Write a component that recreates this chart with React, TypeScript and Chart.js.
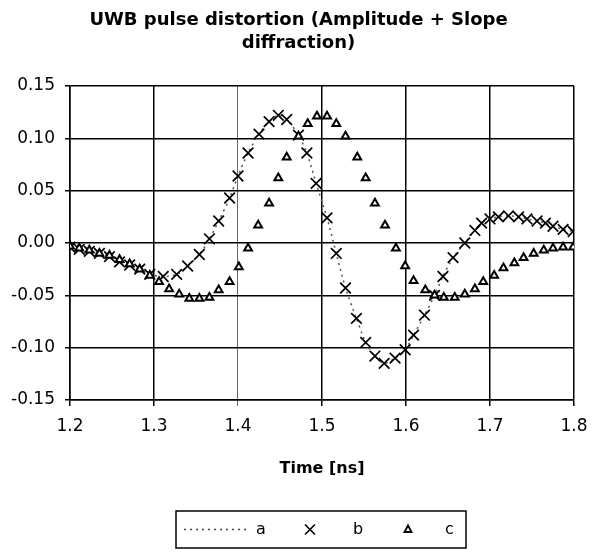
import React, { useEffect, useRef } from "react";
import { Chart, registerables } from "chart.js";

Chart.register(...registerables);

const TITLE_LINES = ["UWB pulse distortion (Amplitude + Slope", "diffraction)"];
const X_TITLE = "Time [ns]";
const SERIES_NAMES = ["a", "b", "c"];

// series a / b (same samples: a is the dotted trace, b the X markers)
const timesB = [
  1.2, 1.211, 1.223, 1.235, 1.247, 1.259, 1.271, 1.283, 1.295, 1.311, 1.327, 1.34, 1.354,
  1.366, 1.377, 1.39, 1.4, 1.412, 1.425, 1.437, 1.448, 1.458, 1.472, 1.482, 1.493, 1.506,
  1.517, 1.528, 1.541, 1.552, 1.563, 1.574, 1.587, 1.599, 1.609, 1.622, 1.634, 1.644, 1.656,
  1.67, 1.682, 1.69, 1.7, 1.71, 1.722, 1.734, 1.744, 1.756, 1.766, 1.775, 1.787, 1.799,
];
const valuesB = [
  -0.004, -0.006, -0.008, -0.01, -0.013, -0.018, -0.021, -0.025, -0.03, -0.032, -0.03, -0.022,
  -0.011, 0.004, 0.021, 0.043, 0.064, 0.086, 0.104, 0.116, 0.122, 0.118, 0.103, 0.086, 0.057,
  0.024, -0.01, -0.043, -0.072, -0.095, -0.108, -0.115, -0.11, -0.102, -0.088, -0.069, -0.05,
  -0.032, -0.014, 0.0, 0.012, 0.019, 0.023, 0.025, 0.026, 0.025, 0.023, 0.021, 0.019, 0.016,
  0.013, 0.011,
];

// series c (triangles)
const timesC = [
  1.2, 1.211, 1.223, 1.235, 1.247, 1.259, 1.271, 1.283, 1.295, 1.306, 1.318, 1.33, 1.342,
  1.354, 1.366, 1.377, 1.39, 1.401, 1.412, 1.424, 1.437, 1.448, 1.458, 1.472, 1.483, 1.494,
  1.506, 1.517, 1.528, 1.542, 1.552, 1.563, 1.575, 1.588, 1.599, 1.609, 1.623, 1.634, 1.645,
  1.658, 1.67, 1.682, 1.692, 1.705, 1.716, 1.729, 1.74, 1.752, 1.764, 1.775, 1.787, 1.799,
];
const valuesC = [
  -0.003, -0.005, -0.007, -0.01, -0.012, -0.016, -0.02, -0.025, -0.031, -0.037, -0.044, -0.049,
  -0.053, -0.053, -0.052, -0.045, -0.037, -0.023, -0.005, 0.017, 0.038, 0.062, 0.082, 0.102,
  0.114, 0.121, 0.121, 0.114, 0.102, 0.082, 0.062, 0.038, 0.017, -0.005, -0.022, -0.036, -0.045,
  -0.05, -0.052, -0.052, -0.049, -0.044, -0.037, -0.031, -0.024, -0.019, -0.014, -0.01, -0.007,
  -0.005, -0.004, -0.004,
];

const X_MIN = 1.2;
const X_MAX = 1.8;
const Y_MIN = -0.15;
const Y_MAX = 0.15;

const FONT = "'DejaVu Sans', 'Liberation Sans', Arial, sans-serif";

const toPoints = (xs: number[], ys: number[]) => xs.map((x, i) => ({ x, y: ys[i] }));

const titlePlugin = {
  id: "centeredTitle",
  afterDraw(chart: any) {
    const ctx = chart.ctx as CanvasRenderingContext2D;
    ctx.save();
    ctx.fillStyle = "#000";
    ctx.font = "bold 18px " + FONT;
    ctx.textAlign = "center";
    ctx.textBaseline = "middle";
    TITLE_LINES.forEach((line, i) => ctx.fillText(line, 298.5, 20 + i * 23.5));
    ctx.restore();
  },
};

const legendPlugin = {
  id: "boxLegend",
  afterDraw(chart: any) {
    const ctx = chart.ctx as CanvasRenderingContext2D;
    const bx = 176, by = 511, bw = 290, bh = 37;
    ctx.save();
    ctx.strokeStyle = "#000";
    ctx.lineWidth = 1.5;
    ctx.strokeRect(bx, by, bw, bh);
    const cy = by + bh / 2;
    // a
    ctx.strokeStyle = "#444";
    ctx.lineWidth = 1.5;
    ctx.setLineDash([2, 4]);
    ctx.beginPath();
    ctx.moveTo(184, cy);
    ctx.lineTo(250, cy);
    ctx.stroke();
    ctx.setLineDash([]);
    ctx.fillStyle = "#000";
    ctx.font = "16px " + FONT;
    ctx.textBaseline = "middle";
    ctx.textAlign = "left";
    ctx.fillText(SERIES_NAMES[0], 256, cy);
    // b
    ctx.strokeStyle = "#000";
    ctx.lineWidth = 1.6;
    const r = 5;
    ctx.beginPath();
    ctx.moveTo(310 - r, cy - r);
    ctx.lineTo(310 + r, cy + r);
    ctx.moveTo(310 + r, cy - r);
    ctx.lineTo(310 - r, cy + r);
    ctx.stroke();
    ctx.fillText(SERIES_NAMES[1], 353, cy);
    // c
    ctx.lineWidth = 1.8;
    ctx.beginPath();
    ctx.moveTo(408, cy - 4);
    ctx.lineTo(411.5, cy + 2.5);
    ctx.lineTo(404.5, cy + 2.5);
    ctx.closePath();
    ctx.stroke();
    ctx.fillText(SERIES_NAMES[2], 445, cy);
    ctx.restore();
  },
};

export default function App() {
  const ref = useRef<HTMLCanvasElement | null>(null);

  useEffect(() => {
    document.body.style.margin = "0";
    const canvas = ref.current;
    if (!canvas) return;
    const chart = new Chart(canvas, {
      type: "scatter",
      data: {
        datasets: [
          {
            label: SERIES_NAMES[0],
            data: toPoints(timesB, valuesB),
            showLine: true,
            borderColor: "#555",
            borderWidth: 1.5,
            borderDash: [2, 4],
            pointRadius: 0,
            tension: 0.3,
            order: 3,
          },
          {
            label: SERIES_NAMES[1],
            data: toPoints(timesB, valuesB),
            showLine: false,
            pointStyle: "crossRot",
            pointRadius: 7.5,
            borderColor: "#000",
            backgroundColor: "#000",
            pointBorderWidth: 1.7,
            order: 2,
          },
          {
            label: SERIES_NAMES[2],
            data: toPoints(timesC, valuesC),
            showLine: false,
            pointStyle: "triangle",
            pointRadius: 4.5,
            borderColor: "#000",
            backgroundColor: "#fff",
            pointBorderWidth: 2,
            order: 1,
          },
        ],
      },
      options: {
        responsive: false,
        animation: false,
        layout: { padding: { left: 0, right: 25, top: 86, bottom: 0 } },
        plugins: {
          legend: { display: false },
          tooltip: { enabled: false },
          title: { display: false },
        },
        scales: {
          x: {
            type: "linear",
            min: X_MIN,
            max: X_MAX,
            afterFit: (s: any) => {
              s.height = 157;
            },
            ticks: {
              stepSize: 0.1,
              color: "#000",
              padding: 10,
              font: { family: FONT, size: 17 },
              maxRotation: 0,
              callback: (v: any) => Number(v).toFixed(1),
            },
            grid: {
              color: (c: any) => (c.tick && Math.abs(c.tick.value - 1.4) < 1e-6 ? "#666" : "#000"),
              lineWidth: (c: any) => (c.tick && Math.abs(c.tick.value - 1.4) < 1e-6 ? 1 : 1.5),
              tickLength: 6,
            },
            border: { color: "#000", width: 1.5 },
            title: {
              display: true,
              text: X_TITLE,
              color: "#000",
              font: { family: FONT, size: 16, weight: "bold", lineHeight: 1.2 },
              padding: { top: 0, bottom: 79 },
            },
          },
          y: {
            type: "linear",
            min: Y_MIN,
            max: Y_MAX,
            afterFit: (s: any) => {
              s.width = 70;
            },
            ticks: {
              stepSize: 0.05,
              color: "#000",
              padding: 10,
              font: { family: FONT, size: 17 },
              callback: (v: any) => Number(v).toFixed(2),
            },
            grid: { color: "#000", lineWidth: 1.5, tickLength: 5 },
            border: { color: "#000", width: 1.5 },
          },
        },
      },
      plugins: [titlePlugin, legendPlugin],
    });
    return () => chart.destroy();
  }, []);

  return (
    <div style={{ width: 599, height: 557 }}>
      <canvas ref={ref} width={599} height={557} style={{ display: "block" }} />
    </div>
  );
}
